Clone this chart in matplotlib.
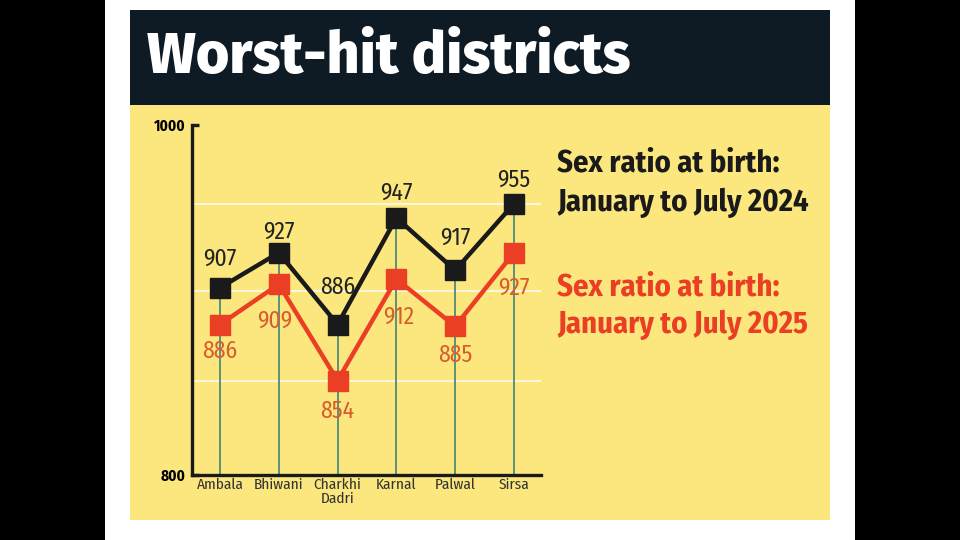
import matplotlib
matplotlib.use("Agg")
import matplotlib.pyplot as plt
from matplotlib.patches import Rectangle
import numpy as np

districts = ["Ambala", "Bhiwani", "Charkhi\nDadri", "Karnal", "Palwal", "Sirsa"]
ratio_2024 = [907, 927, 886, 947, 917, 955]
ratio_2025 = [886, 909, 854, 912, 885, 927]
grid_values = [955, 905, 854]
y_ticks = [800, 1000]

# label offsets (pixels) -- styling only
off_2024 = [29, 21, 37, 25, 32, 24]
off_2025 = [27, 37, 31, 38, 29, 35]
dx_2025 = [0, -4, 0, 2, 0, 0]

W, H = 960, 540
BLACK = "#1a1a1a"
RED = "#ea3f24"
RED_TXT = "#d95c2e"
YELLOW = "#fbe77e"
NAVY = "#0e1b25"
TEAL = "#4e8a7c"

NARROW = ["Fira Sans Condensed", "Roboto", "DejaVu Sans"]
WIDE = ["Fira Sans", "Fira Sans Condensed", "DejaVu Sans"]
PT = 0.72  # points per pixel at 100 dpi

fig = plt.figure(figsize=(W / 100, H / 100), dpi=100)
fig.patch.set_facecolor("white")

def px_rect(x0, y0, x1, y1, color):
    fig.patches.append(Rectangle((x0 / W, 1 - y1 / H), (x1 - x0) / W, (y1 - y0) / H,
                                 transform=fig.transFigure, facecolor=color,
                                 edgecolor="none", zorder=-5))

px_rect(0, 0, 105, 540, "black")
px_rect(855, 0, 960, 540, "black")
px_rect(130, 10, 830, 105, NAVY)
px_rect(130, 105, 830, 520, YELLOW)

fig.text(147 / W, 1 - 57 / H, "Worst-hit districts", color="white",
         fontsize=41.3, fontweight="heavy", family=WIDE, va="center", ha="left")

ax = fig.add_axes([192 / W, 1 - 475 / H, (541 - 192) / W, (475 - 125) / H])
ax.set_zorder(5)
ax.set_facecolor("none")
x = np.arange(len(districts))
ax.set_xlim(-0.476, 5.46)
ax.set_ylim(800, 1000)

for g in grid_values:
    ax.axhline(g, color="white", lw=1.3, alpha=0.8, zorder=1)
ax.vlines(x, 800, ratio_2024, color=TEAL, lw=1.3, zorder=2)

ax.plot(x, ratio_2024, color=BLACK, lw=3.2, marker="s", ms=14.5,
        markerfacecolor=BLACK, markeredgecolor=BLACK, zorder=4, clip_on=False)
ax.plot(x, ratio_2025, color=RED, lw=3.2, marker="s", ms=14.5,
        markerfacecolor=RED, markeredgecolor=RED, zorder=3, clip_on=False)

for xi, v, o in zip(x, ratio_2024, off_2024):
    ax.annotate(str(v), (xi, v), xytext=(0, o * PT), textcoords="offset points",
                ha="center", va="center", fontsize=17, color="#222222", family=NARROW, zorder=5)
for xi, v, o, d in zip(x, ratio_2025, off_2025, dx_2025):
    ax.annotate(str(v), (xi, v), xytext=(d * PT, -o * PT), textcoords="offset points",
                ha="center", va="center", fontsize=17, color=RED_TXT, family=NARROW, zorder=5)

for s in ["top", "right"]:
    ax.spines[s].set_visible(False)
for s in ["left", "bottom"]:
    ax.spines[s].set_linewidth(2.4)
    ax.spines[s].set_color(BLACK)

ax.set_yticks(y_ticks)
ax.set_yticklabels([str(t) for t in y_ticks], fontsize=11, fontweight="bold", family=NARROW)
ax.tick_params(axis="y", direction="in", length=5, width=2.4, color=BLACK, pad=5)
ax.set_xticks(x)
ax.set_xticklabels(districts, fontsize=11, color="#333333", family=NARROW, linespacing=0.95)
ax.tick_params(axis="x", length=0, pad=2)

fs_leg = 22
fig.text(557 / W, 1 - 163 / H, "Sex ratio at birth:", color=BLACK, fontsize=fs_leg,
         fontweight="bold", family=NARROW, va="center", ha="left")
fig.text(557 / W, 1 - 203 / H, "January to July 2024", color=BLACK, fontsize=fs_leg,
         fontweight="bold", family=NARROW, va="center", ha="left")
fig.text(557 / W, 1 - 287 / H, "Sex ratio at birth:", color=RED, fontsize=fs_leg,
         fontweight="bold", family=NARROW, va="center", ha="left")
fig.text(557 / W, 1 - 325 / H, "January to July 2025", color=RED, fontsize=fs_leg,
         fontweight="bold", family=NARROW, va="center", ha="left")

fig.savefig("out.png", dpi=100, facecolor="white")
